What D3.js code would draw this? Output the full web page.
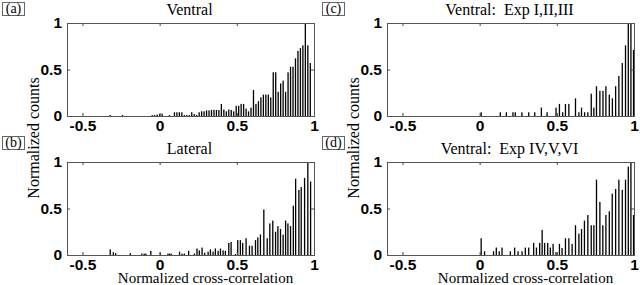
<!DOCTYPE html>
<html>
<head>
<meta charset="utf-8">
<script src="https://cdn.jsdelivr.net/npm/d3@7"></script>
<style>
body { margin: 0; background: #fff; }
</style>
</head>
<body>
<div id="chart"></div>
<script>
/* Histograms of normalized cross-correlation */

var x_ticks    = [-0.5, 0, 0.5, 1];
var y_ticks    = [0, 0.5, 1];
var titles     = ['Ventral', 'Lateral', 'Ventral:  Exp I,II,III', 'Ventral:  Exp IV,V,VI'];
var panel_tags = ['(a)', '(b)', '(c)', '(d)'];
var y_label    = 'Normalized counts';
var x_label    = 'Normalized cross-correlation';

// [bin centre, normalized count]
var ventral = [
    [-0.32, 0.01], [-0.24, 0.01], [-0.048, 0.01], [-0.032, 0.01], [-0.016, 0.015],
    [0.0, 0.02], [0.016, 0.025], [0.064, 0.01], [0.096, 0.04], [0.112, 0.04],
    [0.128, 0.04], [0.144, 0.04], [0.16, 0.01], [0.176, 0.01], [0.192, 0.01],
    [0.208, 0.04], [0.224, 0.02], [0.24, 0.01], [0.256, 0.04], [0.272, 0.05],
    [0.288, 0.05], [0.304, 0.06], [0.32, 0.06], [0.336, 0.065], [0.352, 0.065],
    [0.368, 0.065], [0.384, 0.065], [0.4, 0.13], [0.416, 0.07], [0.432, 0.05],
    [0.448, 0.07], [0.464, 0.065], [0.48, 0.05], [0.496, 0.11], [0.512, 0.11],
    [0.528, 0.13], [0.544, 0.13], [0.56, 0.08], [0.576, 0.05], [0.592, 0.09],
    [0.608, 0.28], [0.624, 0.13], [0.64, 0.16], [0.656, 0.2], [0.672, 0.23],
    [0.688, 0.23], [0.704, 0.23], [0.72, 0.2], [0.736, 0.47], [0.752, 0.47],
    [0.768, 0.26], [0.784, 0.35], [0.8, 0.38], [0.816, 0.26], [0.832, 0.47],
    [0.848, 0.53], [0.864, 0.53], [0.88, 0.62], [0.896, 0.7], [0.912, 0.73],
    [0.928, 0.76], [0.944, 1.0], [0.96, 0.76], [0.976, 0.57]
];

var lateral = [
    [-0.32, 0.06], [-0.30, 0.03], [-0.285, 0.02], [-0.19, 0.02], [-0.115, 0.015],
    [-0.1, 0.015], [-0.089, 0.015], [-0.057, 0.045], [0.004, 0.025], [0.054, 0.015],
    [0.064, 0.015], [0.075, 0.015], [0.129, 0.036], [0.145, 0.015], [0.16, 0.015],
    [0.188, 0.045], [0.225, 0.015], [0.242, 0.07], [0.257, 0.05], [0.275, 0.08],
    [0.292, 0.025], [0.314, 0.036], [0.329, 0.06], [0.346, 0.036], [0.361, 0.07],
    [0.379, 0.045], [0.394, 0.07], [0.411, 0.05], [0.426, 0.045], [0.448, 0.13],
    [0.463, 0.14], [0.491, 0.01], [0.506, 0.16], [0.523, 0.16], [0.538, 0.13],
    [0.56, 0.18], [0.582, 0.1], [0.599, 0.1], [0.621, 0.16], [0.636, 0.19],
    [0.653, 0.22], [0.675, 0.49], [0.697, 0.18], [0.714, 0.34], [0.733, 0.37],
    [0.751, 0.25], [0.766, 0.31], [0.783, 0.28], [0.8, 0.22], [0.816, 0.37],
    [0.831, 0.34], [0.848, 0.31], [0.866, 0.53], [0.881, 0.82], [0.902, 0.7],
    [0.917, 0.73], [0.939, 0.83], [0.96, 1.0], [0.978, 0.79]
];

var ventral_123 = [
    [0.01, 0.04], [0.134, 0.04], [0.173, 0.04], [0.216, 0.04], [0.231, 0.04],
    [0.274, 0.04], [0.318, 0.04], [0.357, 0.04], [0.4, 0.09], [0.437, 0.04],
    [0.495, 0.09], [0.517, 0.13], [0.538, 0.04], [0.556, 0.13], [0.578, 0.13],
    [0.621, 0.19], [0.643, 0.04], [0.66, 0.09], [0.68, 0.04], [0.701, 0.04],
    [0.723, 0.24], [0.74, 0.09], [0.757, 0.32], [0.779, 0.27], [0.799, 0.27],
    [0.818, 0.32], [0.84, 0.23], [0.86, 0.19], [0.881, 0.32], [0.902, 0.43],
    [0.924, 0.57], [0.945, 0.76], [0.963, 1.0], [0.98, 1.0], [0.997, 0.71]
];

var ventral_456 = [
    [0.01, 0.18], [0.032, 0.04], [0.09, 0.04], [0.108, 0.08], [0.127, 0.04],
    [0.145, 0.08], [0.199, 0.04], [0.227, 0.08], [0.249, 0.04], [0.275, 0.04],
    [0.296, 0.08], [0.318, 0.08], [0.35, 0.13], [0.368, 0.08], [0.389, 0.13],
    [0.405, 0.27], [0.421, 0.13], [0.441, 0.13], [0.458, 0.08], [0.476, 0.12],
    [0.495, 0.03], [0.517, 0.12], [0.534, 0.076], [0.556, 0.18], [0.578, 0.18],
    [0.599, 0.12], [0.621, 0.32], [0.643, 0.23], [0.66, 0.28], [0.679, 0.37],
    [0.701, 0.43], [0.723, 0.32], [0.74, 0.32], [0.757, 0.81], [0.779, 0.57],
    [0.798, 0.32], [0.818, 0.43], [0.84, 0.47], [0.859, 0.66], [0.881, 0.71],
    [0.902, 0.81], [0.924, 0.7], [0.945, 0.81], [0.963, 0.95], [0.98, 1.0],
    [0.997, 0.43]
];

var chart_width  = 640;
var chart_height = 285;
var plot_width   = 247;
var plot_height  = 93;
var bar_width    = 1.3;

var svg = d3.select('#chart')
		.append('svg')
		.attr('width', chart_width)
		.attr('height', chart_height)
		.style('display', 'block');

var panels = [
	{ bars: ventral,     title: titles[0], tag: panel_tags[0], left: 67,  top: 23,  tag_y: 2,   xlab: false },
	{ bars: lateral,     title: titles[1], tag: panel_tags[1], left: 67,  top: 162, tag_y: 136, xlab: true },
	{ bars: ventral_123, title: titles[2], tag: panel_tags[2], left: 387, top: 23,  tag_y: 2,   xlab: false },
	{ bars: ventral_456, title: titles[3], tag: panel_tags[3], left: 387, top: 162, tag_y: 136, xlab: true }
];

var x_scale = d3.scaleLinear()
		.domain([-0.6, 1])
		.range([0, plot_width]);

var y_scale = d3.scaleLinear()
		.domain([0, 1])
		.range([plot_height, 0]);

var fmt = function(d){ return String(d); };

panels.forEach(function(p){
	var g = svg.append('g')
			.attr('transform', 'translate(' + p.left + ',' + p.top + ')');

	// bars
	g.selectAll('rect.bar')
			.data(p.bars)
			.enter()
			.append('rect')
			.attr('class', 'bar')
			.attr('x', function(d){
				return x_scale(d[0]) - bar_width / 2;
			})
			.attr('y', function(d){
				return y_scale(d[1]);
			})
			.attr('width', bar_width)
			.attr('height', function(d){
				return plot_height - y_scale(d[1]);
			})
			.attr('fill', '#000');

	// axes, ticks pointing inward
	var ax_b = g.append('g')
			.attr('transform', 'translate(0,' + plot_height + ')')
			.call(d3.axisBottom(x_scale).tickValues(x_ticks).tickSizeInner(-3).tickSizeOuter(0).tickPadding(4).tickFormat(fmt));
	var ax_t = g.append('g')
			.call(d3.axisTop(x_scale).tickValues(x_ticks).tickSizeInner(-3).tickSizeOuter(0).tickFormat(''));
	var ax_l = g.append('g')
			.call(d3.axisLeft(y_scale).tickValues(y_ticks).tickSizeInner(-3).tickSizeOuter(0).tickPadding(5).tickFormat(fmt));
	var ax_r = g.append('g')
			.attr('transform', 'translate(' + plot_width + ',0)')
			.call(d3.axisRight(y_scale).tickValues(y_ticks).tickSizeInner(-3).tickSizeOuter(0).tickFormat(''));

	[ax_b, ax_t, ax_l, ax_r].forEach(function(a){
		a.select('.domain').remove();
		a.selectAll('line').attr('stroke', '#444');
		a.selectAll('text')
				.attr('fill', '#000')
				.style('font-family', 'Liberation Sans, Arial, sans-serif')
				.style('font-weight', 'bold')
				.style('font-size', '15.5px');
	});

	// frame
	g.append('rect')
			.attr('x', 0.5)
			.attr('y', 0.5)
			.attr('width', plot_width)
			.attr('height', plot_height)
			.attr('fill', 'none')
			.attr('stroke', '#555')
			.attr('stroke-width', 1);

	// title
	svg.append('text')
			.attr('x', p.left + plot_width / 2 - 1)
			.attr('y', p.top - 8)
			.attr('text-anchor', 'middle')
			.style('font-family', 'Liberation Serif, serif')
			.style('font-size', '16px')
			.style('white-space', 'pre')
			.text(p.title);

	// panel tag in a box
	var tag_x = p.left - 65;
	svg.append('rect')
			.attr('x', tag_x + 0.5)
			.attr('y', p.tag_y + 0.5)
			.attr('width', 22)
			.attr('height', 13)
			.attr('fill', 'none')
			.attr('stroke', '#666');
	svg.append('text')
			.attr('x', tag_x + 11.5)
			.attr('y', p.tag_y + 11)
			.attr('text-anchor', 'middle')
			.style('font-family', 'Liberation Serif, serif')
			.style('font-size', '14px')
			.text(p.tag);

	if (p.xlab) {
		svg.append('text')
				.attr('x', p.left + plot_width / 2 + 15)
				.attr('y', 283)
				.attr('text-anchor', 'middle')
				.style('font-family', 'Liberation Serif, serif')
				.style('font-size', '15px')
				.text(x_label);
	}
});

// shared y labels
[33, 353].forEach(function(xpos){
	svg.append('text')
			.attr('transform', 'translate(' + xpos + ',138) rotate(-90)')
			.attr('text-anchor', 'middle')
			.attr('dy', '0.35em')
			.style('font-family', 'Liberation Serif, serif')
			.style('font-size', '16px')
			.text(y_label);
});
</script>
</body>
</html>
